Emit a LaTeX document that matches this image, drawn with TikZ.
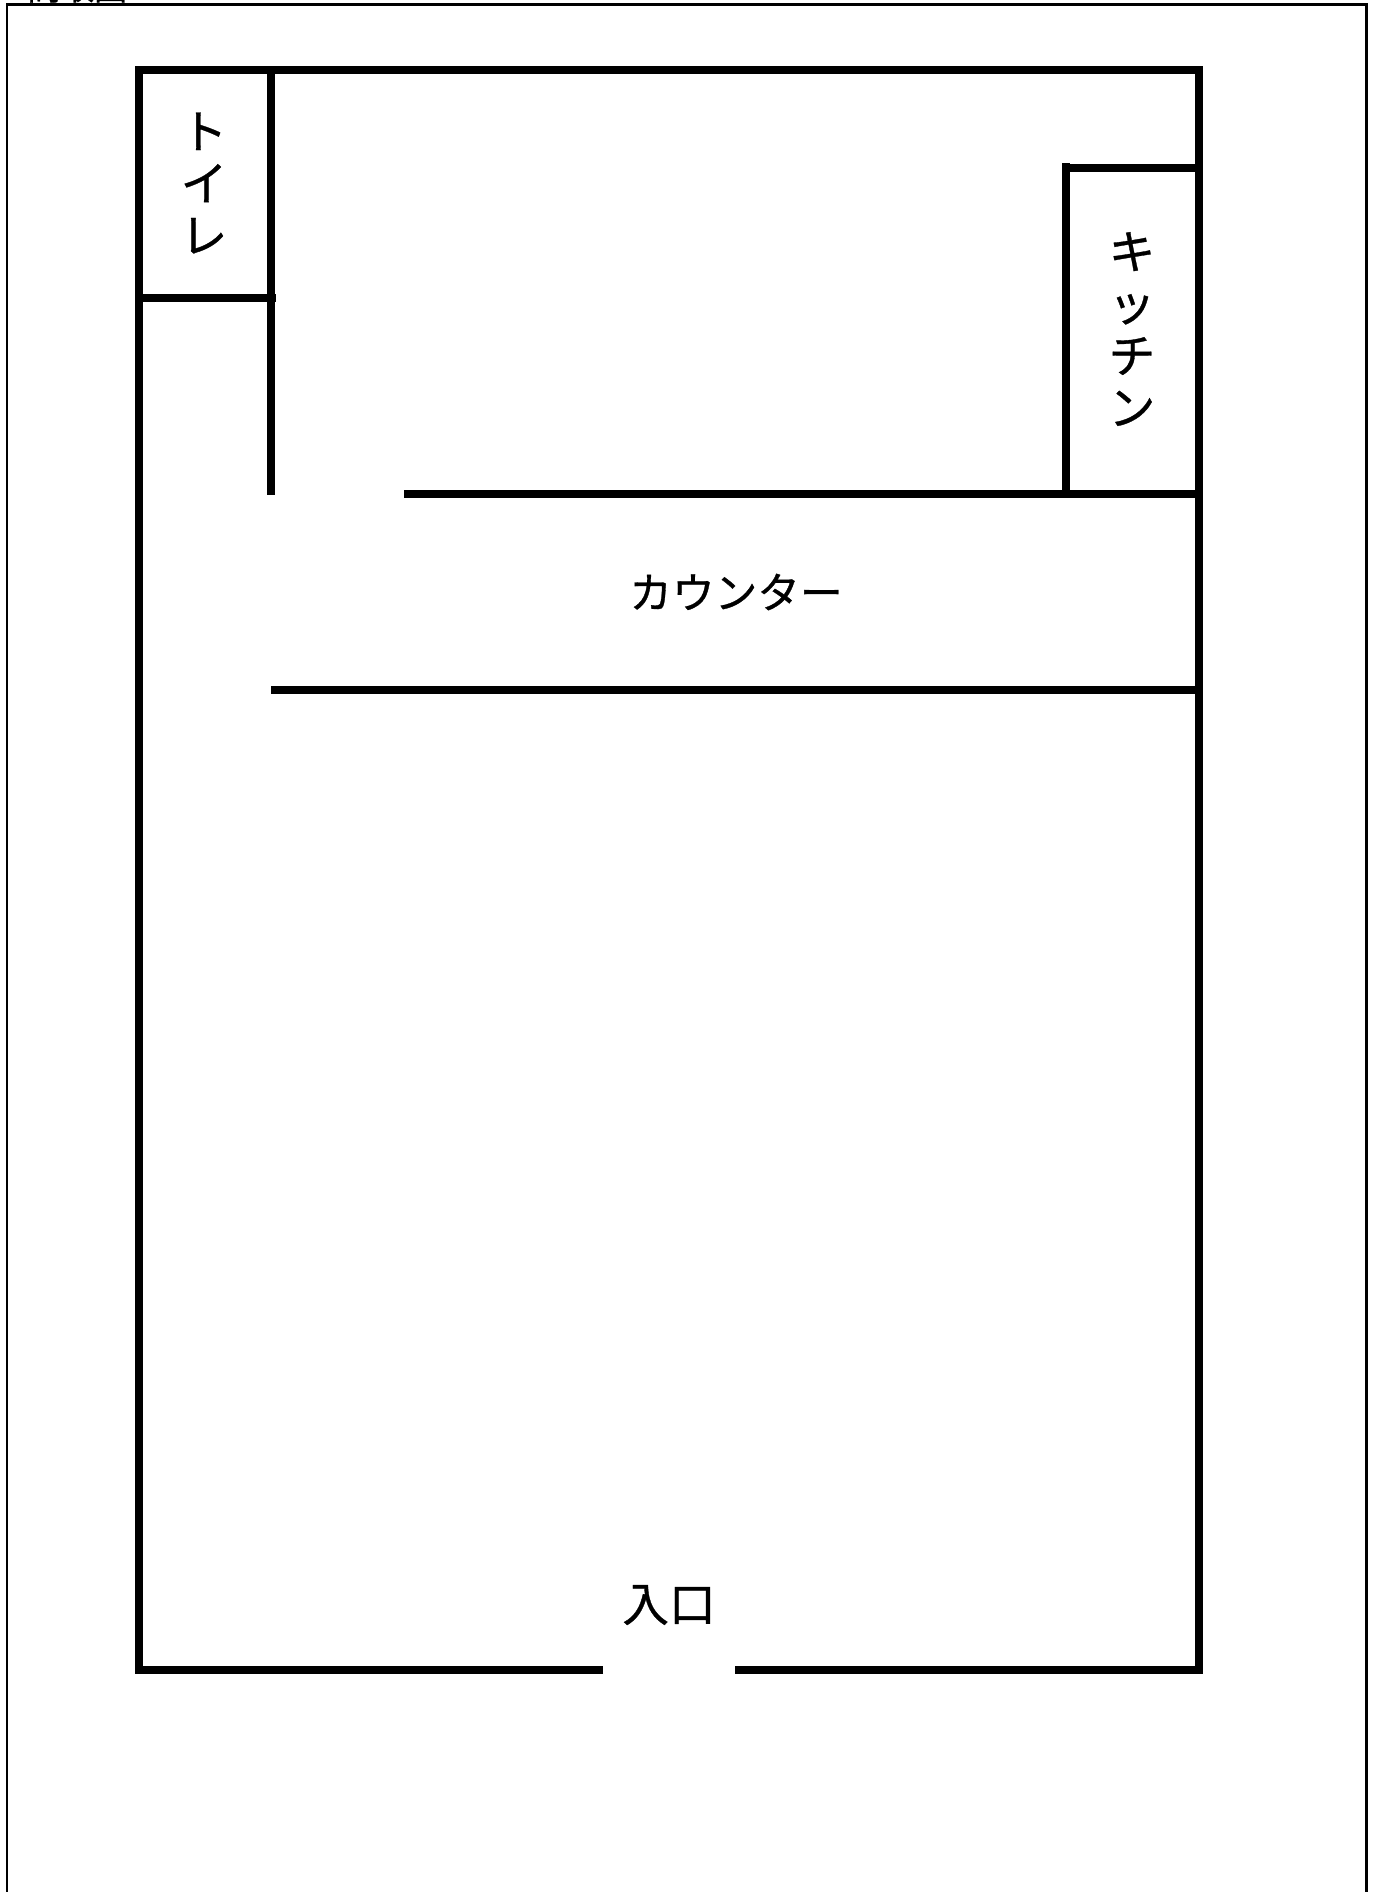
\documentclass[tikz,border=0pt]{standalone}
\usepackage{fontspec}
\setmainfont{Noto Sans CJK JP}[FakeBold=0.7]
\begin{document}
\begin{tikzpicture}[
        x=0.75pt, y=-0.75pt,
        wall/.style={line width=6pt, line cap=butt},
        label/.style={inner sep=0pt, align=center, font=\fontsize{35}{39}\selectfont}
    ]
        \useasboundingbox (0,0) rectangle (1372,1892);
        \begin{scope}
            \clip (0,0) rectangle (1372,1892);
            \node[inner sep=0pt, anchor=base west, font=\fontsize{25}{25}\selectfont] (title) at (27,0) {間取図};
            \draw[line width=2.2pt] (7,1900) -- (7,4.5) -- (1366.5,4.5) -- (1366.5,1900);
        \end{scope}

        % outer walls
        \coordinate (doorl) at (603,1670);
        \coordinate (doorr) at (735,1670);
        \draw[wall, line join=miter] (doorl) -- (139,1670) -- (139,70) -- (1199,70) -- (1199,1670) -- (doorr);

        % toilet
        \draw[wall] (271,70) -- (271,495);
        \draw[wall] (139,298) -- (276,298);

        % kitchen and counter
        \draw[wall] (1066,163) -- (1066,494);
        \draw[wall] (1066,168) -- (1199,168);
        \draw[wall] (404,494) -- (1199,494);
        \draw[wall] (271,690) -- (1199,690);

        \node[label] (toilet) at (204,183) {ト\\イ\\レ};
        \node[label] (kitchen) at (1132,329) {キ\\ッ\\チ\\ン};
        \node[label, font=\fontsize{32}{39}\selectfont] (counter) at (736,592) {カウンター};
        \node[label] (entrance) at (669,1605) {入口};
    \end{tikzpicture}
\end{document}
